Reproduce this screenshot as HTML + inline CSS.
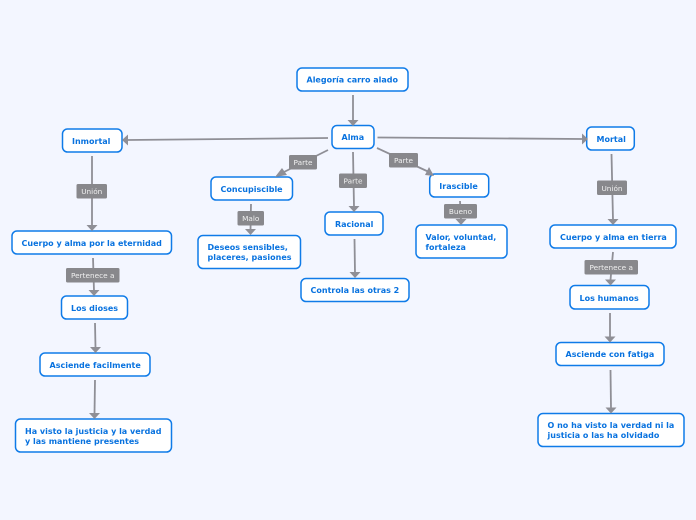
<!DOCTYPE html>
<html><head><meta charset="utf-8">
<style>
html,body{margin:0;padding:0;background:#f3f6ff;width:696px;height:520px;overflow:hidden}
svg{display:block}
.b{fill:#fff;stroke:#0f7be8;stroke-width:1.5}
.t{font-family:"DejaVu Sans",sans-serif;font-weight:bold;font-size:8px;fill:#0872df}
.l{stroke:#8f8f96;stroke-width:1.8;fill:none}
.a{fill:#8f8f96}
.g{fill:#88888c}
.w{font-family:"DejaVu Sans",sans-serif;font-size:7.3px;fill:#f0f0f0;text-anchor:middle}
</style></head><body>
<svg width="696" height="520" viewBox="0 0 696 520" xmlns="http://www.w3.org/2000/svg">
<rect width="696" height="520" fill="#f3f6ff"/>
<g class="l">
<path d="M353 95V120"/><path d="M328 138L128 140"/><path d="M377.500 137.500L582 139"/>
<path d="M328 150L280 174"/><path d="M353 152L354 207"/><path d="M377 148L429 172"/>
<path d="M92 156V226"/><path d="M251 204L250.500 230"/><path d="M460 201L461 220"/>
<path d="M611.500 154L613 220"/><path d="M354.500 239L355 273"/><path d="M93 258L94 291"/>
<path d="M95 323L95.500 348"/><path d="M95 380L94.500 414"/><path d="M613 252L610.500 280"/>
<path d="M610 313V337"/><path d="M610.500 370L611 408"/>
</g>
<g class="b">
<rect x="297" y="68" width="111" height="23" rx="5"/><rect x="332" y="125.500" width="42" height="23" rx="5"/>
<rect x="62.500" y="129" width="59.500" height="23" rx="5"/><rect x="586.700" y="127" width="47.600" height="23" rx="5"/>
<rect x="211" y="177" width="81.500" height="23" rx="5"/><rect x="429.700" y="174" width="59" height="23" rx="5"/>
<rect x="325" y="212" width="58" height="23" rx="5"/><rect x="12" y="231" width="159.500" height="23" rx="5"/>
<rect x="198" y="235.500" width="102.500" height="33" rx="5"/><rect x="416" y="225" width="91" height="33" rx="5"/>
<rect x="550" y="225" width="126" height="23" rx="5"/><rect x="301" y="278.500" width="108" height="23" rx="5"/>
<rect x="61.500" y="296" width="66" height="23" rx="5"/><rect x="570" y="285.500" width="79" height="23.500" rx="5"/>
<rect x="40" y="353" width="110" height="23" rx="5"/><rect x="556" y="342.500" width="108" height="23" rx="5"/>
<rect x="15.500" y="419" width="156" height="33" rx="5"/><rect x="538" y="413.500" width="146" height="33" rx="5"/>
</g>
<g class="a">
<path d="M353 126L347.500 120H358.500Z"/><path d="M122 140L128 134.500V145.500Z"/><path d="M588 139L582 133.500V144.500Z"/>
<path d="M275 177L282 168L287 175Z"/><path d="M354 212L348.500 206H359.500Z"/><path d="M434 176L425 175L429 167Z"/>
<path d="M92 231L86.500 225H97.500Z"/><path d="M250.500 235L245 229H256Z"/><path d="M461 225L455.500 219H466.500Z"/>
<path d="M613 225L607.500 219H618.500Z"/><path d="M355 278L349.500 272H360.500Z"/><path d="M94 296L88.500 290H99.500Z"/>
<path d="M95.500 353L90 347H101Z"/><path d="M94.500 419L89 413H100Z"/><path d="M610.500 285.500L605 279.500H616Z"/>
<path d="M610 342.500L604.500 336.500H615.500Z"/><path d="M611 413.500L605.500 407.500H616.500Z"/>
</g>
<g class="g">
<rect x="289" y="155" width="28" height="14.500" rx="1.500"/><rect x="76.500" y="184" width="30.500" height="14.500" rx="1.500"/>
<rect x="237.500" y="211" width="26.500" height="14.500" rx="1.500"/><rect x="66" y="268" width="53.500" height="14.500" rx="1.500"/>
<rect x="339" y="173.500" width="28" height="14.500" rx="1.500"/><rect x="389" y="153" width="29" height="14.500" rx="1.500"/>
<rect x="444" y="204" width="33" height="14.500" rx="1.500"/><rect x="597" y="180.500" width="30" height="14.500" rx="1.500"/>
<rect x="584.500" y="260" width="53.500" height="14.500" rx="1.500"/>
</g>
<g class="w">
<text x="303" y="165">Parte</text><text x="91.750" y="194">Unión</text><text x="250.750" y="221">Malo</text>
<text x="92.750" y="278">Pertenece a</text><text x="353" y="183.500">Parte</text><text x="403.500" y="163">Parte</text>
<text x="460.500" y="214">Bueno</text><text x="612" y="191">Unión</text><text x="611.250" y="270">Pertenece a</text>
</g>
<g class="t">
<text x="306.500" y="82.500">Alegoría carro alado</text>
<text x="341.500" y="140">Alma</text>
<text x="72" y="144">Inmortal</text>
<text x="596.500" y="142">Mortal</text>
<text x="220.500" y="192">Concupiscible</text>
<text x="439.300" y="189">Irascible</text>
<text x="335" y="227">Racional</text>
<text x="21.500" y="246">Cuerpo y alma por la eternidad</text>
<text x="207.500" y="250">Deseos sensibles,</text>
<text x="207.500" y="260">placeres, pasiones</text>
<text x="425.500" y="240">Valor, voluntad,</text>
<text x="425.500" y="250">fortaleza</text>
<text x="560" y="240">Cuerpo y alma en tierra</text>
<text x="310.500" y="293">Controla las otras 2</text>
<text x="71" y="311">Los dioses</text>
<text x="579.500" y="301">Los humanos</text>
<text x="49.500" y="368">Asciende facilmente</text>
<text x="565.500" y="357">Asciende con fatiga</text>
<text x="25" y="434">Ha visto la justicia y la verdad</text>
<text x="25" y="444">y las mantiene presentes</text>
<text x="547.500" y="428">O no ha visto la verdad ni la</text>
<text x="547.500" y="438">justicia o las ha olvidado</text>
</g>
</svg>
</body></html>
